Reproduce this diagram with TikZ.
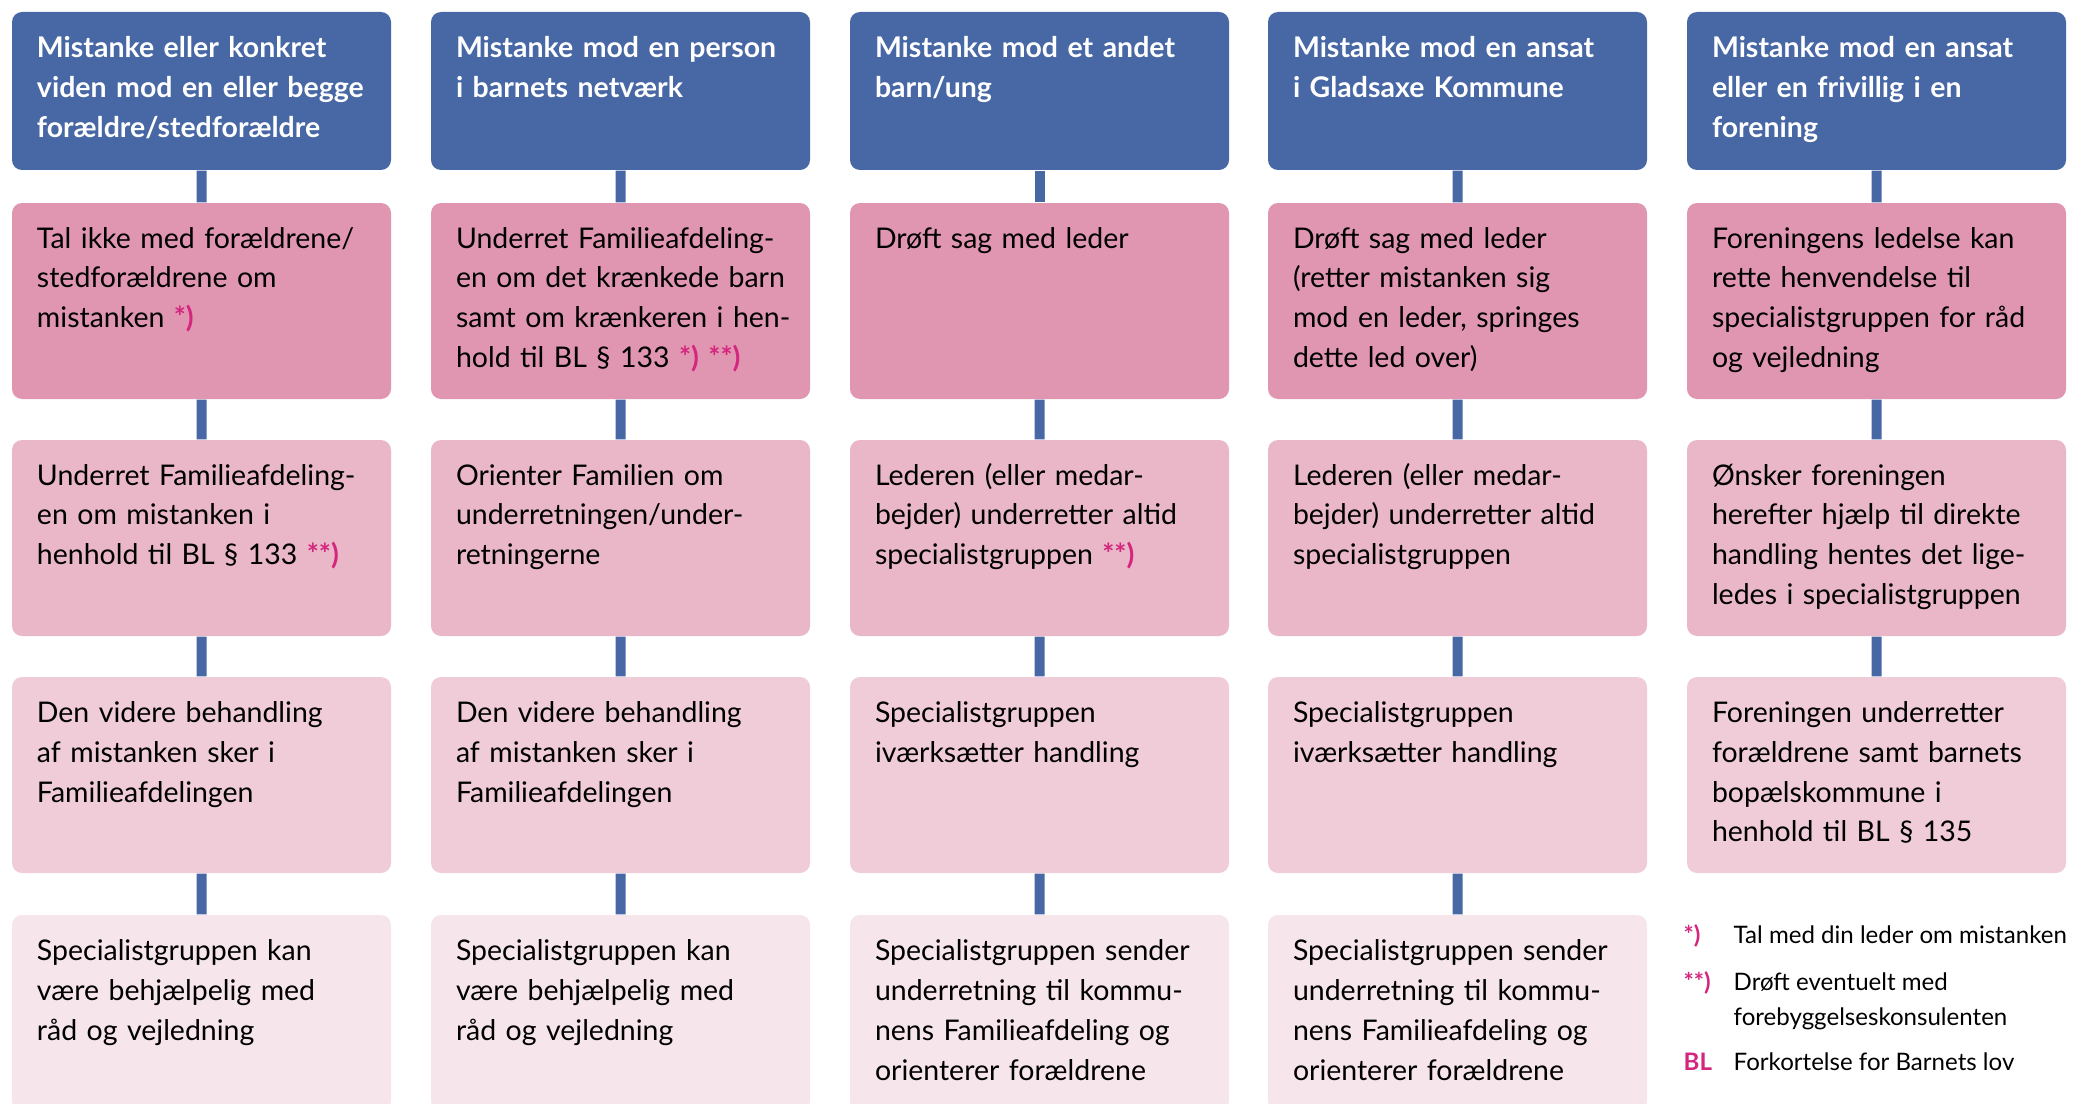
\documentclass[tikz,border=0pt]{standalone}
\usepackage{fontspec}
\setmainfont{Lato}
\definecolor{hblue}{HTML}{4767A5}
\definecolor{rowa}{HTML}{E096B1}
\definecolor{rowb}{HTML}{E9B7C8}
\definecolor{rowc}{HTML}{F0CCD9}
\definecolor{rowd}{HTML}{F7E5EC}
\definecolor{mag}{HTML}{D4267E}
\newcommand{\fn}[1]{{\color{mag}\bfseries #1)}}
\begin{document}
\begin{tikzpicture}[
    box/.style={rectangle, rounded corners=0.1cm, text width=3.29cm, align=left, inner xsep=0.25cm, inner ysep=0pt, text height=0.45cm, text depth=1.51cm, font=\fontsize{8.1pt}{11.38pt}\selectfont},
    head/.style={box, fill=hblue, text=white, font=\fontsize{8.1pt}{11.38pt}\selectfont\bfseries, text height=0.46cm, text depth=1.12cm},
    stepa/.style={box, fill=rowa},
    stepb/.style={box, fill=rowb},
    stepc/.style={box, fill=rowc},
    stepd/.style={box, fill=rowd},
    legsym/.style={anchor=base west, inner sep=0pt, font=\fontsize{6.85pt}{9.96pt}\selectfont},
    legtext/.style={anchor=base west, inner sep=0pt, align=left, font=\fontsize{6.85pt}{9.96pt}\selectfont},
    grow=down,
    edge from parent/.style={draw=hblue, line width=0.1cm},
    level 1/.style={level distance=2.10cm},
    level 2/.style={level distance=2.37cm},
    level 3/.style={level distance=2.37cm},
    level 4/.style={level distance=2.38cm}
    ]
	\path[use as bounding box, clip] (0,0) rectangle (20.79,-11.03);
	\node [head] (c1h) at (2.015,-0.91) {Mistanke eller konkret\\viden mod en eller begge\\forældre/stedforældre}
		child{node [stepa] (c1a) {Tal ikke med forældrene/\\stedforældrene om\\mistanken \fn{*}}
			child{node [stepb] (c1b) {Underret Familieafdeling-\\en om mistanken i\\henhold til BL § 133 \fn{**}}
				child{node [stepc] (c1c) {Den videre behandling\\af mistanken sker i\\Familieafdelingen}
					child{node [stepd] (c1d) {Specialistgruppen kan\\være behjælpelig med\\råd og vejledning}}
				}
			}
		};
	\node [head] (c2h) at (6.205,-0.91) {Mistanke mod en person\\i barnets netværk}
		child{node [stepa] (c2a) {Underret Familieafdeling-\\en om det krænkede barn\\\mbox{samt om krænkeren i hen-}\\hold til BL § 133 \fn{*} \fn{**}}
			child{node [stepb] (c2b) {Orienter Familien om\\underretningen/under-\\retningerne}
				child{node [stepc] (c2c) {Den videre behandling\\af mistanken sker i\\Familieafdelingen}
					child{node [stepd] (c2d) {Specialistgruppen kan\\være behjælpelig med\\råd og vejledning}}
				}
			}
		};
	\node [head] (c3h) at (10.395,-0.91) {Mistanke mod et andet\\barn/ung}
		child{node [stepa] (c3a) {Drøft sag med leder}
			child{node [stepb] (c3b) {Lederen (eller medar-\\bejder) underretter altid\\specialistgruppen \fn{**}}
				child{node [stepc] (c3c) {Specialistgruppen\\iværksætter handling}
					child{node [stepd] (c3d) {Specialistgruppen sender\\underretning til kommu-\\nens Familieafdeling og\\orienterer forældrene}}
				}
			}
		};
	\node [head] (c4h) at (14.575,-0.91) {Mistanke mod en ansat\\i Gladsaxe Kommune}
		child{node [stepa] (c4a) {Drøft sag med leder\\(retter mistanken sig\\mod en leder, springes\\dette led over)}
			child{node [stepb] (c4b) {Lederen (eller medar-\\bejder) underretter altid\\specialistgruppen}
				child{node [stepc] (c4c) {Specialistgruppen\\iværksætter handling}
					child{node [stepd] (c4d) {Specialistgruppen sender\\underretning til kommu-\\nens Familieafdeling og\\orienterer forældrene}}
				}
			}
		};
	\node [head] (c5h) at (18.765,-0.91) {Mistanke mod en ansat\\eller en frivillig i en\\forening}
		child{node [stepa] (c5a) {Foreningens ledelse kan\\rette henvendelse til\\specialistgruppen for råd\\og vejledning}
			child{node [stepb] (c5b) {Ønsker foreningen\\herefter hjælp til direkte\\handling hentes det lige-\\ledes i specialistgruppen}
				child{node [stepc] (c5c) {Foreningen underretter\\forældrene samt barnets\\bopælskommune i\\henhold til BL § 135}}
			}
		};
	\node [legsym] (sym1) at (16.83,-9.43) {\fn{*}};
	\node [legtext] (txt1) at (17.33,-9.43) {Tal med din leder om mistanken};
	\node [legsym] (sym2) at (16.83,-9.90) {\fn{**}};
	\node [legtext] (txt2) at (17.33,-10.25) {Drøft eventuelt med\\forebyggelseskonsulenten};
	\node [legsym] (sym3) at (16.83,-10.70) {{\color{mag}\bfseries BL}};
	\node [legtext] (txt3) at (17.33,-10.70) {Forkortelse for Barnets lov};
\end{tikzpicture}
\end{document}
